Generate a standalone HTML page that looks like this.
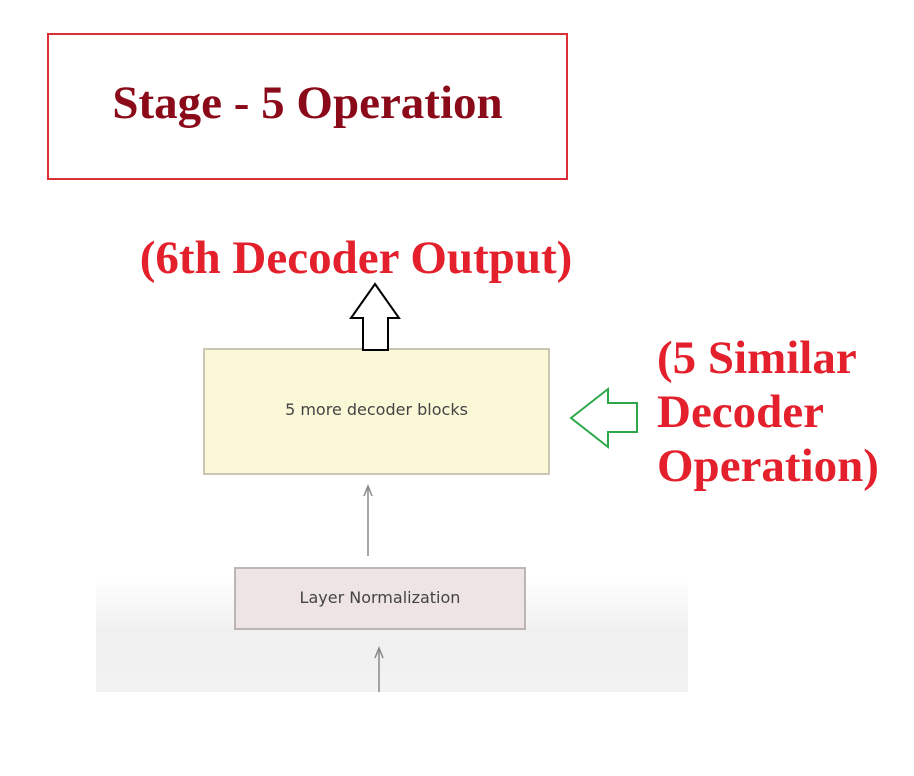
<!DOCTYPE html>
<html><head><style>
body{margin:0;width:914px;height:776px;background:#fff;position:relative;overflow:hidden;font-family:"Liberation Serif",serif}
.a{position:absolute}
</style></head><body>
<div class="a" style="left:96px;top:300px;width:592px;height:392px;background:linear-gradient(#fff 0%,#fff 70%,#f0f0f0 85%,#f2f2f2 100%)"></div>
<div class="a" style="left:47px;top:33px;width:517px;height:143px;border:2px solid #dc2f35"></div>
<div class="a" style="left:47px;top:74px;width:521px;text-align:center;font-weight:bold;font-size:47px;color:#8b0a1a;line-height:58px;white-space:nowrap">Stage - 5 Operation</div>
<div class="a" style="left:106px;top:230px;width:500px;text-align:center;font-weight:bold;font-size:47px;color:#e3202b;line-height:56px;white-space:nowrap">(6th Decoder Output)</div>
<div class="a" style="left:657px;top:331px;font-weight:bold;font-size:47px;color:#e3202b;line-height:54px;white-space:nowrap">(5 Similar<br>Decoder<br>Operation)</div>
<div class="a" style="left:203px;top:348px;width:343px;height:123px;background:#fbf8d8;border:2px solid #c9c6b2"></div>
<div class="a" style="left:203px;top:400px;width:347px;text-align:center;font-family:'DejaVu Sans',sans-serif;font-size:16px;color:#444">5 more decoder blocks</div>
<div class="a" style="left:234px;top:567px;width:288px;height:59px;background:#eee4e4;border:2px solid #bdb5b5"></div>
<div class="a" style="left:234px;top:588px;width:292px;text-align:center;font-family:'DejaVu Sans',sans-serif;font-size:16px;color:#444">Layer Normalization</div>
<svg class="a" style="left:0;top:0" width="914" height="776">
<polygon points="375,284 399,318 388,318 388,350 363,350 363,318 351,318" fill="#fff" stroke="#000" stroke-width="2"/>
<polygon points="571,418 608,389 608,403 637,403 637,432 608,432 608,447" fill="#fff" stroke="#2ca84a" stroke-width="2"/>
<line x1="368" y1="488" x2="368" y2="556" stroke="#888" stroke-width="1.5"/>
<polyline points="364,496 368,486 372,496" fill="none" stroke="#888" stroke-width="1.5"/>
<line x1="379" y1="650" x2="379" y2="692" stroke="#888" stroke-width="1.5"/>
<polyline points="375,658 379,648 383,658" fill="none" stroke="#888" stroke-width="1.5"/>
</svg>
</body></html>
